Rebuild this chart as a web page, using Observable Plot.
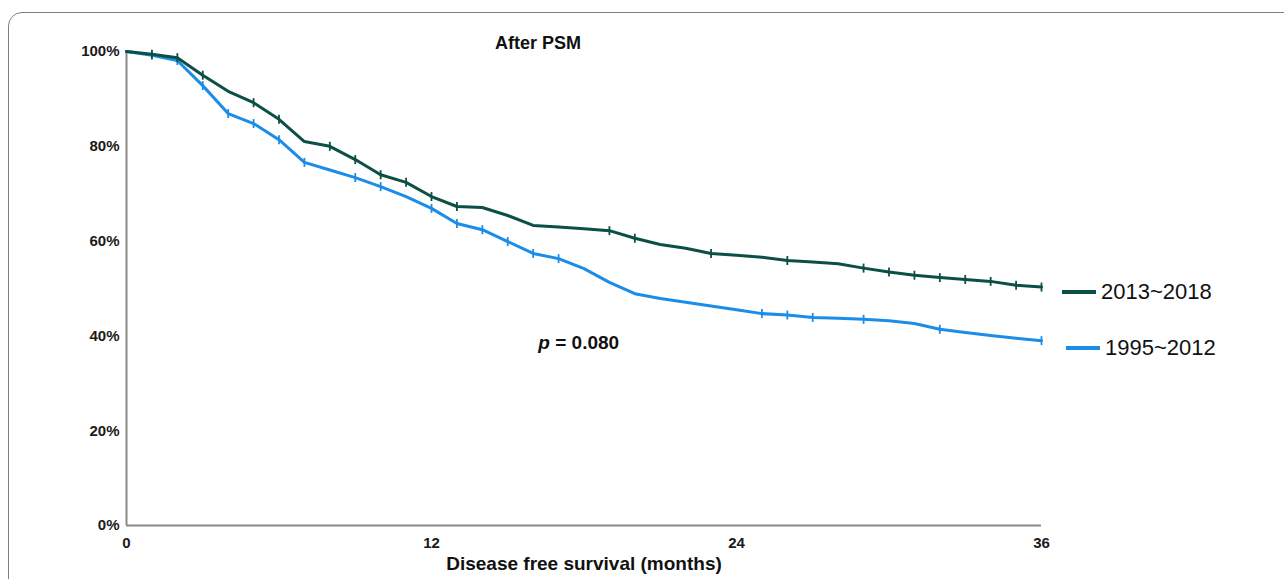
<!DOCTYPE html>
<html><head><meta charset="utf-8">
<script src="https://cdn.jsdelivr.net/npm/d3@7"></script>
<script src="https://cdn.jsdelivr.net/npm/@observablehq/plot@0.6"></script>
<style>
html,body{margin:0;padding:0;background:#fff;overflow:hidden;width:1284px;height:579px;position:relative;}
#frame{position:absolute;left:8px;top:12px;width:1320px;height:640px;border:1.5px solid #7f7f7f;border-radius:14px;box-sizing:border-box;}
#chart{position:absolute;left:0;top:0;}
.leg{position:absolute;height:30px;font-family:"Liberation Sans",Arial,sans-serif;font-size:22px;color:#111;display:flex;align-items:center;white-space:nowrap;}
.leg .sw{display:inline-block;width:34px;height:4px;margin-right:5px;}
</style></head><body>
<div id="frame"></div>
<div id="chart"></div>
<div id="legend"></div>
<script>
// ---- data ----
const months = [0,1,2,3,4,5,6,7,8,9,10,11,12,13,14,15,16,17,18,19,20,21,22,23,24,25,26,27,28,29,30,31,32,33,34,35,36];
const seriesNames = ["2013~2018", "1995~2012"];
const seriesColors = ["#0c4f45", "#1b8de8"];
const surv2013 = [100,99.4,98.7,95.0,91.6,89.2,85.7,81.0,80.0,77.2,74.0,72.4,69.4,67.3,67.1,65.4,63.3,63.0,62.6,62.2,60.6,59.3,58.5,57.4,57.0,56.6,55.9,55.6,55.2,54.3,53.5,52.8,52.3,51.9,51.5,50.7,50.3];
const surv1995 = [100,99.2,98.1,92.8,86.9,84.8,81.4,76.6,75.0,73.4,71.5,69.4,66.9,63.7,62.4,59.9,57.4,56.3,54.2,51.3,48.9,47.9,47.1,46.3,45.5,44.7,44.4,43.9,43.7,43.5,43.2,42.6,41.4,40.7,40.1,39.5,39.0];
const censor2013 = [1,2,3,5,6,8,9,10,11,12,13,19,20,23,26,29,30,31,32,33,34,35,36];
const censor1995 = [1,2,3,4,5,6,7,9,10,12,13,14,15,16,17,25,26,27,29,32,36];
const xTicks = [0,12,24,36];
const yTicks = [0,20,40,60,80,100];
const titleText = "After PSM";
const xLabel = "Disease free survival (months)";
const pSymbol = "p";
const pValueText = "= 0.080";
const pPos = {month: 16.2, surv: 38.6};

// ---- build tables ----
const survBySeries = {"2013~2018": surv2013, "1995~2012": surv1995};
const censorBySeries = {"2013~2018": censor2013, "1995~2012": censor1995};
const lineRows = s => months.map((m, i) => ({series: s, month: m, surv: survBySeries[s][i]}));
const censorRows = s => censorBySeries[s].map(m => ({series: s, month: m, surv: survBySeries[s][months.indexOf(m)]}));

const tickSymbol = {draw(context, size) { const r = Math.sqrt(size / Math.PI); context.moveTo(0, -r); context.lineTo(0, r); }};
const font = "'Liberation Sans', Arial, sans-serif";

const plot = Plot.plot({
  width: 1284, height: 579,
  marginLeft: 126, marginRight: 243, marginTop: 51, marginBottom: 54,
  style: {fontFamily: font, background: "transparent", overflow: "visible"},
  x: {domain: [0, 36]},
  y: {domain: [0, 100]},
  color: {domain: seriesNames, range: seriesColors},
  marks: [
    Plot.axisX({ticks: xTicks, tickSize: 0, tickPadding: 12, label: null, fontSize: 15, fontWeight: "bold", fill: "#1a1a1a"}),
    Plot.axisY({ticks: yTicks, tickSize: 0, tickPadding: 7, tickFormat: d => d + "%", label: null, fontSize: 15, fontWeight: "bold", fill: "#1a1a1a"}),
    Plot.ruleY([0], {stroke: "#8a8a8a", strokeWidth: 2}),
    Plot.ruleX([0], {y1: 0, y2: 100, stroke: "#8a8a8a", strokeWidth: 2}),
    Plot.line(lineRows("1995~2012"), {x: "month", y: "surv", stroke: "series", strokeWidth: 3}),
    Plot.dot(censorRows("1995~2012"), {x: "month", y: "surv", stroke: "series", fill: "none", symbol: tickSymbol, r: 4.5, strokeWidth: 1.8}),
    Plot.line(lineRows("2013~2018"), {x: "month", y: "surv", stroke: "series", strokeWidth: 3}),
    Plot.dot(censorRows("2013~2018"), {x: "month", y: "surv", stroke: "series", fill: "none", symbol: tickSymbol, r: 4.5, strokeWidth: 1.8}),
    Plot.text([titleText], {frameAnchor: "top", dx: -46, dy: -15, fontSize: 18, fontWeight: "bold", fill: "#111"}),
    Plot.text([xLabel], {frameAnchor: "bottom", dy: 44, fontSize: 19, fontWeight: "bold", fill: "#111"}),
    Plot.text([pPos], {x: "month", y: "surv", text: () => pSymbol, textAnchor: "start", fontSize: 19, fontWeight: "bold", fontStyle: "italic", fill: "#111"}),
    Plot.text([pPos], {x: "month", y: "surv", text: () => pValueText, textAnchor: "start", dx: 17, fontSize: 19, fontWeight: "bold", fill: "#111"})
  ]
});
document.getElementById("chart").appendChild(plot);

// ---- legend ----
const legendPos = [{left: 1062, top: 292}, {left: 1066, top: 347.5}];
const legend = document.getElementById("legend");
seriesNames.forEach((s, i) => {
  const d = document.createElement("div");
  d.className = "leg";
  d.style.left = legendPos[i].left + "px";
  d.style.top = (legendPos[i].top - 15) + "px";
  const sw = document.createElement("span");
  sw.className = "sw";
  sw.style.background = seriesColors[i];
  d.appendChild(sw);
  d.appendChild(document.createTextNode(s));
  legend.appendChild(d);
});
</script>
</body></html>
